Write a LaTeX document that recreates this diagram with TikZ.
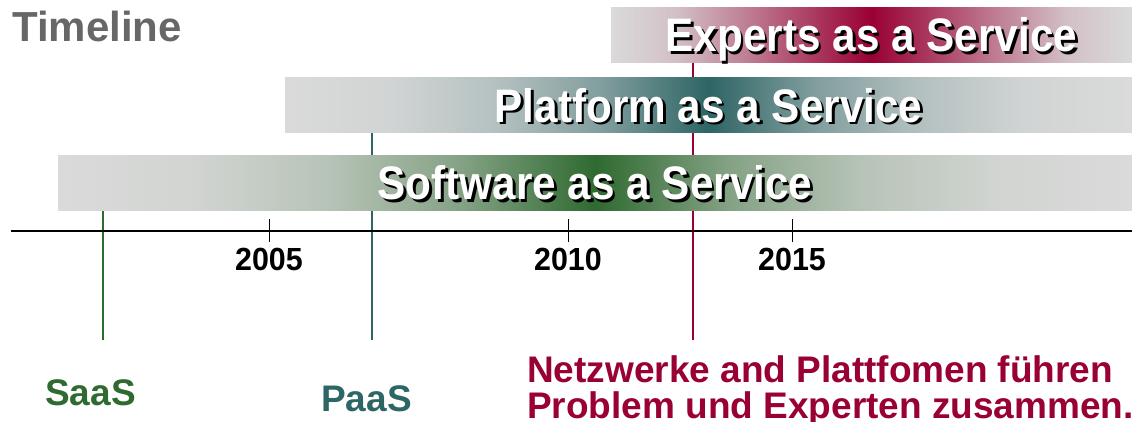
\documentclass[tikz,border=0pt]{standalone}
\usepackage{fontspec}
\setmainfont{Liberation Sans}
\newfontfamily\barfont{Liberation Sans}[FakeStretch=0.9]
\newfontfamily\yearfont{Liberation Sans}[FakeStretch=0.95]
\usetikzlibrary{positioning}

\definecolor{barGray}{HTML}{DADADA}
\definecolor{titleGray}{HTML}{676767}
\definecolor{saasGreen}{HTML}{2F6A30}
\definecolor{paasTeal}{HTML}{2E6565}
\definecolor{eaasRed}{HTML}{990033}
% fade steps from the bar ends towards the middle
\colorlet{saasA}{barGray!95!saasGreen}
\colorlet{saasB}{barGray!80!saasGreen}
\colorlet{saasC}{barGray!50!saasGreen}
\colorlet{paasA}{barGray!95!paasTeal}
\colorlet{paasB}{barGray!78!paasTeal}
\colorlet{paasC}{barGray!48!paasTeal}
\colorlet{eaasA}{barGray!88!eaasRed}
\colorlet{eaasB}{barGray!60!eaasRed}
\colorlet{eaasC}{barGray!30!eaasRed}

\pgfdeclarehorizontalshading{saasfade}{100bp}{color(0bp)=(barGray); color(25bp)=(barGray); color(31.25bp)=(saasA); color(37.5bp)=(saasB); color(43.75bp)=(saasC); color(50bp)=(saasGreen); color(56.25bp)=(saasC); color(62.5bp)=(saasB); color(68.75bp)=(saasA); color(75bp)=(barGray); color(100bp)=(barGray)}
\pgfdeclarehorizontalshading{paasfade}{100bp}{color(0bp)=(barGray); color(25bp)=(barGray); color(31.25bp)=(paasA); color(37.5bp)=(paasB); color(43.75bp)=(paasC); color(50bp)=(paasTeal); color(56.25bp)=(paasC); color(62.5bp)=(paasB); color(68.75bp)=(paasA); color(75bp)=(barGray); color(100bp)=(barGray)}
\pgfdeclarehorizontalshading{eaasfade}{100bp}{color(0bp)=(barGray); color(25bp)=(barGray); color(31.25bp)=(eaasA); color(37.5bp)=(eaasB); color(43.75bp)=(eaasC); color(50bp)=(eaasRed); color(56.25bp)=(eaasC); color(62.5bp)=(eaasB); color(68.75bp)=(eaasA); color(75bp)=(barGray); color(100bp)=(barGray)}

\pgfdeclarelayer{background}
\pgfsetlayers{background,main}

\begin{document}
\begin{tikzpicture}[x=1pt,y=-1pt,
    bar/.style={inner sep=0pt, minimum height=55pt, shade},
    bartext/.style={font=\barfont\bfseries\fontsize{47}{50}\selectfont, anchor=base, text=white, inner sep=0pt},
    barshadow/.style={bartext, text=black},
    marker/.style={line width=1.5pt},
    yearlabel/.style={font=\yearfont\bfseries\fontsize{32}{34}\selectfont, anchor=base, inner sep=0pt},
    bottomlabel/.style={font=\bfseries\fontsize{37}{36}\selectfont, anchor=base west, inner sep=0pt}]
    \useasboundingbox (0,0) rectangle (1132,421);

    % Title
    \node[font=\bfseries\fontsize{42}{44}\selectfont, text=titleGray, anchor=base west, inner sep=0pt] (title) at (12,41) {Timeline};

    % Draw the service bars
    \node[bar, shading=saasfade, minimum width=1074pt] (saasbar) at (595,182.5) {};
    \node[bar, shading=paasfade, minimum width=847pt] (paasbar) at (708.5,105) {};
    \node[bar, shading=eaasfade, minimum width=521pt] (eaasbar) at (871.5,34.5) {};

    % Bar captions with a drop shadow
    \node[barshadow] (saasshadow) at ([xshift=2.5pt,yshift=-19.5pt]saasbar.center) {Software as a Service};
    \node[bartext] (saastext) at ([yshift=-17pt]saasbar.center) {Software as a Service};
    \node[barshadow] (paasshadow) at ([xshift=2.5pt,yshift=-19.5pt]paasbar.center) {Platform as a Service};
    \node[bartext] (paastext) at ([yshift=-17pt]paasbar.center) {Platform as a Service};
    \node[barshadow] (eaasshadow) at ([xshift=2.5pt,yshift=-19.5pt]eaasbar.center) {Experts as a Service};
    \node[bartext] (eaastext) at ([yshift=-17pt]eaasbar.center) {Experts as a Service};

    % Time axis with year ticks
    \coordinate (axisstart) at (11,231);
    \coordinate (axisend) at (1132,231);
    \draw[line width=2pt] (axisstart) -- (axisend);
    \foreach \yr/\x in {2005/269,2010/568,2015/792} {
        \draw[line width=1pt] (\x,219) -- (\x,242);
        \node[yearlabel] (y\yr) at (\x,270) {\yr};
    }

    % Labels at the bottom
    \coordinate (saasend) at (103,340);
    \coordinate (paasend) at (372,340);
    \coordinate (eaasend) at (693,340);
    \node[bottomlabel, text=saasGreen] (saaslabel) at (45,405) {SaaS};
    \node[bottomlabel, text=paasTeal] (paaslabel) at (321,411) {PaaS};
    \node[bottomlabel, text=eaasRed] (eaaslabel) at (527,382) {Netzwerke and Plattfomen führen};
    \node[bottomlabel, text=eaasRed] (eaaslabelb) at ([yshift=-36pt]eaaslabel.base west) {Problem und Experten zusammen.};

    % Marker lines behind the bars
    \begin{pgfonlayer}{background}
        \draw[marker, saasGreen] (saasbar.south -| saasend) -- (saasend);
        \draw[marker, paasTeal] (paasbar.south -| paasend) -- (paasend);
        \draw[marker, eaasRed] (eaasbar.south -| eaasend) -- (eaasend);
    \end{pgfonlayer}
\end{tikzpicture}
\end{document}
